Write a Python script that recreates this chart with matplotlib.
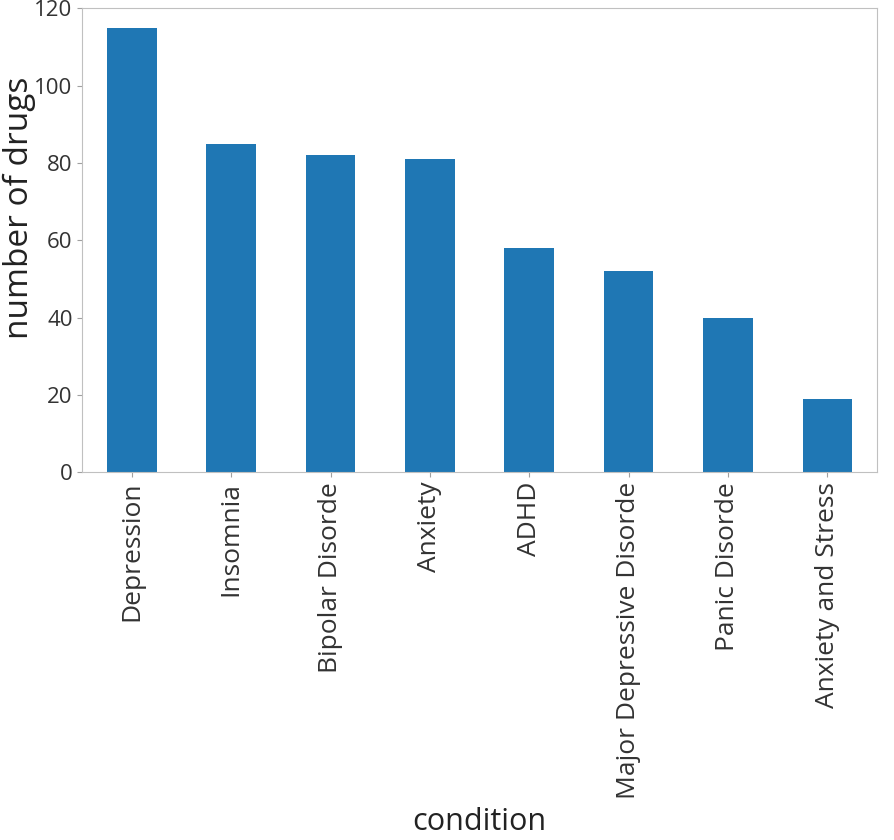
import matplotlib
matplotlib.use("Agg")
import matplotlib.pyplot as plt
import numpy as np

conditions = ["Depression", "Insomnia", "Bipolar Disorde", "Anxiety", "ADHD",
              "Major Depressive Disorde", "Panic Disorde", "Anxiety and Stress"]
num_drugs = [115, 85, 82, 81, 58, 52, 40, 19]

plt.rcParams["font.family"] = ["Open Sans", "DejaVu Sans"]

fig = plt.figure(figsize=(8.94, 8.4), dpi=100)
ax = fig.add_axes([0.092, 0.438, 0.889, 0.552])

x = np.arange(len(conditions))
ax.bar(x, num_drugs, width=0.5, color="#1f77b4")
ax.set_xlim(-0.5, len(conditions) - 0.5)
ax.set_ylim(0, 120)
ax.set_yticks([0, 20, 40, 60, 80, 100, 120])
ax.set_xticks(x)
ax.set_xticklabels(conditions, rotation=90, fontsize=19)

for s in ax.spines.values():
    s.set_color("#c0c0c0")
ax.tick_params(colors="#a0a0a0", labelcolor="#333333")
ax.tick_params(axis="y", labelsize=16)
ax.set_ylabel("number of drugs", fontsize=24, color="#222222")
ax.yaxis.set_label_coords(-0.058, 0.57)
ax.set_xlabel("condition", fontsize=22, color="#222222")
ax.xaxis.set_label_coords(0.5, -0.722)

fig.savefig("out.png", dpi=100)
